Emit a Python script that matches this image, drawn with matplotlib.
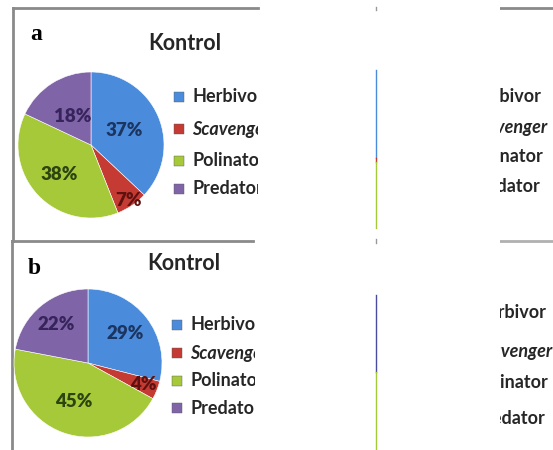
import matplotlib
matplotlib.use("Agg")
import matplotlib.pyplot as plt
import numpy as np

categories = ["Herbivor", "Scavenger", "Polinator", "Predator"]
kontrol_a = [37, 7, 38, 18]
kontrol_b = [29, 4, 45, 22]
panel_titles = ["Kontrol", "Kontrol"]
panel_letters = ["a", "b"]

colors = ["#4a8cdb", "#c53a32", "#a6c93a", "#8064a8"]
label_colors = ["#1c3560", "#5e1210", "#2d4410", "#36245a"]

W, H = 553, 450
fig = plt.figure(figsize=(W / 100, H / 100), dpi=100)
fig.patch.set_facecolor("white")

BORDER = "#8a8a8a"
LEG_SIZE = 13


def px_axes(x0, x1, y0, y1):
    ax = fig.add_axes([x0 / W, 1 - y1 / H, (x1 - x0) / W, (y1 - y0) / H])
    ax.set_xlim(x0, x1)
    ax.set_ylim(y1, y0)
    ax.axis("off")
    return ax


def draw_pie(values, cx, cy, r, dists):
    ax = fig.add_axes([(cx - r) / W, 1 - (cy + r) / H, 2 * r / W, 2 * r / H])
    wedges, _, autotexts = ax.pie(values, colors=colors, startangle=90, counterclock=False,
                                  autopct="%d%%", pctdistance=0.6,
                                  wedgeprops=dict(edgecolor="white", linewidth=0.4))
    for t, d, c, w in zip(autotexts, dists, label_colors, wedges):
        ang = np.deg2rad((w.theta1 + w.theta2) / 2)
        t.set_position((d * np.cos(ang), d * np.sin(ang)))
        t.set_color(c)
        t.set_fontsize(13.5)
        t.set_fontweight("heavy")
        t.set_family("Lato")
    ax.set_xlim(-1, 1)
    ax.set_ylim(-1, 1)
    ax.set_aspect("equal")
    return ax


def legend_block(ax, x_mark, x_text, ys):
    for cat, col, y in zip(categories, colors, ys):
        ax.scatter([x_mark], [y], marker="s", s=50, color=col, edgecolors="#5a5a5a",
                   linewidths=0.3, clip_on=True)
        style = "italic" if cat == "Scavenger" else "normal"
        ax.text(x_text, y, cat, fontsize=LEG_SIZE, fontweight="bold", family="Lato",
                style=style, color="#262626", va="center", ha="left", clip_on=True)


# panel a
axa = px_axes(13, 258, 8, 241)
axa.plot([13, 258], [8, 8], color=BORDER, lw=2, clip_on=False)
axa.plot([13, 13], [8, 241], color=BORDER, lw=2, clip_on=False)
axa.text(30, 34, panel_letters[0], fontsize=17, fontweight="bold", family="Liberation Serif",
         va="center", ha="left")
axa.text(185, 43, panel_titles[0], fontsize=15.5, fontweight="bold", family="Lato",
         color="#262626", va="center", ha="center")
legend_block(axa, 179, 192, [97, 129, 161, 189])
draw_pie(kontrol_a, 91, 145, 73, [0.5, 0.92, 0.6, 0.46])

# panel b
axb = px_axes(12, 255, 241, 450)
axb.plot([12, 253], [241, 241], color=BORDER, lw=2, clip_on=False)
axb.plot([12, 12], [241, 450], color=BORDER, lw=2, clip_on=False)
axb.text(28, 268, panel_letters[1], fontsize=17, fontweight="bold", family="Liberation Serif",
         va="center", ha="left")
axb.text(184, 263, panel_titles[1], fontsize=15.5, fontweight="bold", family="Lato",
         color="#262626", va="center", ha="center")
legend_block(axb, 177, 190, [325, 353, 381, 408])
draw_pie(kontrol_b, 88, 363, 74, [0.64, 0.8, 0.56, 0.67])

# cut-off neighbouring panels on the right
axr = px_axes(500, 553, 0, 450)
axr.plot([500, 553], [8, 8], color=BORDER, lw=2)
axr.plot([500, 553], [241, 241], color="#b0b0b0", lw=2)
for cat, y in zip(categories, [96, 127, 157, 187]):
    style = "italic" if cat == "Scavenger" else "normal"
    axr.text(469, y, cat, fontsize=LEG_SIZE, fontweight="bold", family="Lato", style=style,
             color="#262626", va="center", ha="left", clip_on=True)
for cat, y in zip(categories, [313, 352, 382, 418]):
    style = "italic" if cat == "Scavenger" else "normal"
    axr.text(474, y, cat, fontsize=LEG_SIZE, fontweight="bold", family="Lato", style=style,
             color="#262626", va="center", ha="left", clip_on=True)

axm = px_axes(370, 382, 0, 450)
axm.plot([376, 376], [7, 10], color="#999999", lw=1)
axm.plot([376, 376], [70, 158], color=colors[0], lw=1)
axm.plot([376, 376], [158, 162], color=colors[1], lw=1)
axm.plot([376, 376], [162, 228], color=colors[2], lw=1)
axm.plot([376, 376], [239, 243], color="#999999", lw=1)
axm.plot([376, 376], [295, 372], color="#4a4aa0", lw=1)
axm.plot([376, 376], [372, 450], color=colors[2], lw=1)

fig.savefig("out.png", dpi=100)
